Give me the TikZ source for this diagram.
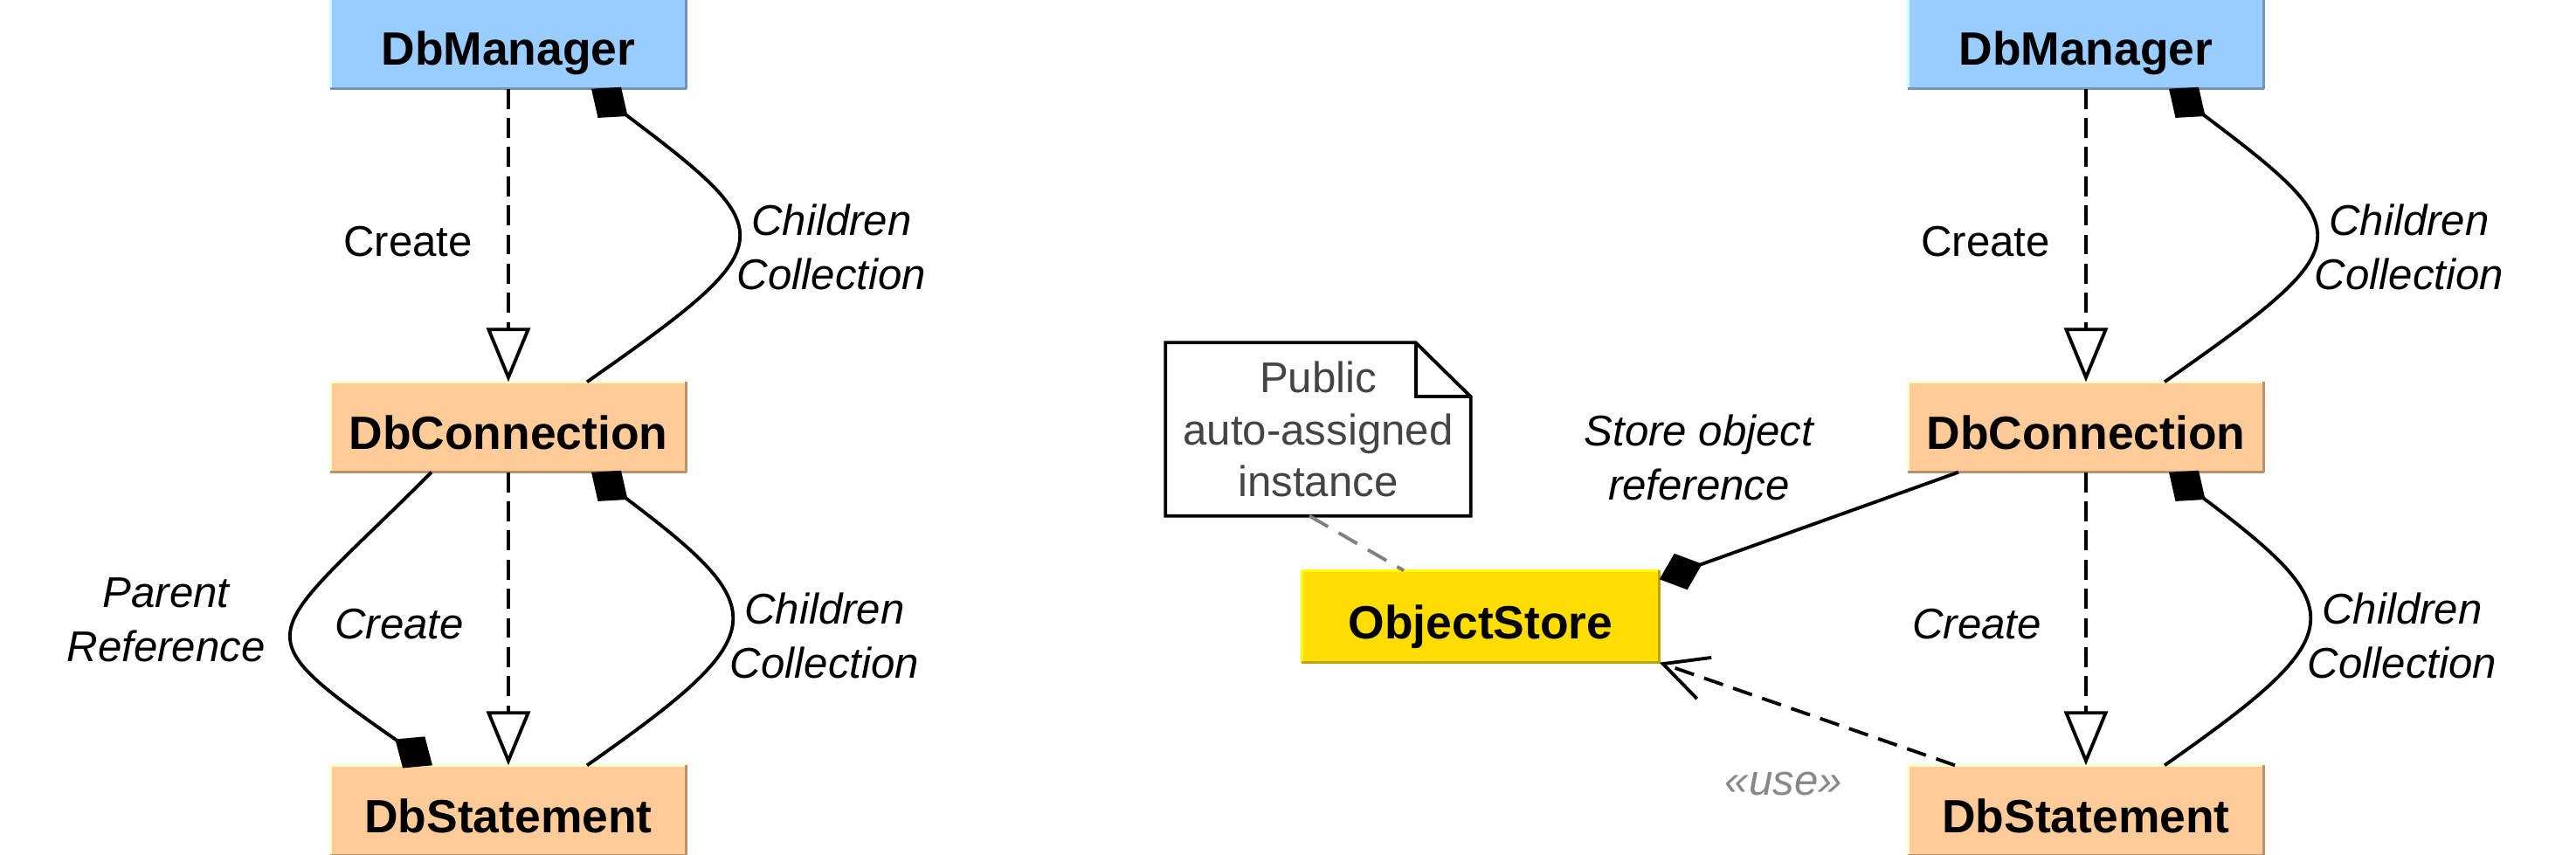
\documentclass[tikz,border=0pt]{standalone}
\usepackage{fontspec}
\setmainfont{Liberation Sans}
\usetikzlibrary{arrows.meta}

\definecolor{mgrfill}{HTML}{99CCFF}
\definecolor{mgrlight}{HTML}{CCFFFF}
\definecolor{mgrdark}{HTML}{7393B8}
\definecolor{dbfill}{HTML}{FFCC99}
\definecolor{dblight}{HTML}{FFFFCC}
\definecolor{dbdark}{HTML}{B8926B}
\definecolor{storefill}{HTML}{FFDD00}
\definecolor{storelight}{HTML}{FFFF00}
\definecolor{storedark}{HTML}{BFA500}
\definecolor{notetext}{HTML}{444444}
\definecolor{usegray}{HTML}{888888}

\begin{document}
\begin{tikzpicture}
    \tikzset{bevel/.style 2 args={append after command={
      (\tikzlastnode.south west) edge[draw=#1, line width=1pt] (\tikzlastnode.north west)
      (\tikzlastnode.north west) edge[draw=#1, line width=1pt] (\tikzlastnode.north east)
      (\tikzlastnode.south west) edge[draw=#2, line width=1pt] (\tikzlastnode.south east)
      (\tikzlastnode.south east) edge[draw=#2, line width=1pt] (\tikzlastnode.north east)
    }}}
    \tikzstyle{cls}=[
      rectangle,
      inner sep=0pt,
      minimum width=4.06cm,
      minimum height=1.02cm,
      text height=0.5cm,
      text depth=0pt,
      font=\fontsize{15.2}{18}\selectfont\bfseries,
    ]
    \tikzstyle{mgr}=[cls, fill=mgrfill, bevel={mgrlight}{mgrdark}]
    \tikzstyle{db}=[cls, fill=dbfill, bevel={dblight}{dbdark}]
    \tikzstyle{store}=[cls, minimum width=4.08cm, minimum height=1.04cm, fill=storefill, bevel={storelight}{storedark}]
    \tikzstyle{note}=[
      rectangle,
      inner sep=0pt,
      minimum width=3.48cm,
      minimum height=1.97cm,
      align=center,
      text=notetext,
      font=\fontsize{14}{17}\selectfont,
    ]
    \tikzstyle{lbl}=[inner sep=0pt, align=center, font=\fontsize{14}{17.6}\selectfont\itshape]
    \tikzstyle{lblup}=[inner sep=0pt, align=center, font=\fontsize{14}{17.6}\selectfont]
    \tikzstyle{create}=[line width=1.1pt, dash pattern=on 6.5pt off 3pt, -{Triangle[open, length=0.62cm, width=0.5cm]}]
    \tikzstyle{comp}=[line width=1.1pt, -{Diamond[length=0.52cm, width=0.44cm]}]
    \tikzstyle{usedep}=[line width=1.1pt, dash pattern=on 6.5pt off 3.5pt, -{Straight Barb[length=0.5cm, width=0.5cm]}]
    \tikzstyle{notelink}=[line width=1.1pt, draw=gray, dash pattern=on 7pt off 4pt]

    \useasboundingbox (0,0) rectangle (29.49,-9.79);

    \coordinate (leftAnchor) at (5.82,0);
    \coordinate (rightAnchor) at ([xshift=18.06cm] leftAnchor);

    % left hierarchy
    {
      \node[mgr] (mgr1) at ([yshift=-0.5cm] leftAnchor) {DbManager};
      \node[db] (conn1) at ([yshift=-4.89cm] leftAnchor) {DbConnection};
      \node[db] (stmt1) at ([yshift=-9.28cm] leftAnchor) {DbStatement};

      \node[lblup] (create11) at ([xshift=-1.15cm, yshift=-2.77cm] leftAnchor) {Create};
      \node[lbl] (children11) at ([xshift=3.70cm, yshift=-2.83cm] leftAnchor) {Children\\Collection};
      \node[lbl] (parent12) at ([xshift=-3.92cm, yshift=-7.10cm] leftAnchor) {Parent\\Reference};
      \node[lbl] (create12) at ([xshift=-1.25cm, yshift=-7.15cm] leftAnchor) {Create};
      \node[lbl] (children12) at ([xshift=3.62cm, yshift=-7.28cm] leftAnchor) {Children\\Collection};

      \draw[create] (mgr1)--(conn1);
      \draw[comp] ([xshift=0.9cm]conn1.north) to [out=35,in=-37,looseness=2.1] ([xshift=0.95cm]mgr1.south);

      \draw[create] (conn1)--(stmt1);
      \draw[comp] ([xshift=-0.88cm]conn1.south) to [out=225,in=145,looseness=2.08] ([xshift=-0.87cm]stmt1.north);
      \draw[comp] ([xshift=0.9cm]stmt1.north) to [out=35,in=-37,looseness=2.0] ([xshift=0.95cm]conn1.south);
    }

    % right hierarchy
    {
      \node[mgr] (mgr2) at ([yshift=-0.5cm] rightAnchor) {DbManager};
      \node[db] (conn2) at ([yshift=-4.89cm] rightAnchor) {DbConnection};
      \node[db] (stmt2) at ([yshift=-9.28cm] rightAnchor) {DbStatement};

      \node[lblup] (create21) at ([xshift=-1.15cm, yshift=-2.77cm] rightAnchor) {Create};
      \node[lbl] (children21) at ([xshift=3.70cm, yshift=-2.83cm] rightAnchor) {Children\\Collection};
      \node[lbl] (create22) at ([xshift=-1.25cm, yshift=-7.15cm] rightAnchor) {Create};
      \node[lbl] (children22) at ([xshift=3.62cm, yshift=-7.28cm] rightAnchor) {Children\\Collection};

      \draw[create] (mgr2)--(conn2);
      \draw[comp] ([xshift=0.9cm]conn2.north) to [out=35,in=-37,looseness=2.1] ([xshift=0.95cm]mgr2.south);

      \draw[create] (conn2)--(stmt2);
      \draw[comp] ([xshift=0.9cm]stmt2.north) to [out=35,in=-37,looseness=2.0] ([xshift=0.95cm]conn2.south);
    }

    % object store
    {
      \node[store] (store) at ([xshift=-6.93cm, yshift=-7.06cm] rightAnchor) {ObjectStore};
      \node[lbl] (storeref) at ([xshift=-4.43cm, yshift=-5.24cm] rightAnchor) {Store object\\reference};
      \node[lbl, text=usegray] (use) at ([xshift=-3.46cm, yshift=-8.97cm] rightAnchor) {«use»};

      \draw[comp] ([xshift=-1.46cm]conn2.south) -- ([yshift=-0.1cm]store.north east);
      \draw[usedep] ([xshift=-1.5cm]stmt2.north) -- (store.south east);
    }

    % note
    {
      \node[note] (note) at ([xshift=-8.79cm, yshift=-4.915cm] rightAnchor) {Public\\auto-assigned\\instance};
      \draw[line width=1.1pt, fill=white] (note.south west) -- (note.north west) -- ([xshift=-0.63cm]note.north east) -- ([yshift=-0.62cm]note.north east) -- (note.south east) -- cycle;
      \draw[line width=1.1pt] ([xshift=-0.63cm]note.north east) |- ([yshift=-0.62cm]note.north east);
      \node[note] at (note) {Public\\auto-assigned\\instance};
      \draw[notelink] ([xshift=-0.1cm]note.south) -- ([xshift=-0.88cm]store.north);
    }
\end{tikzpicture}
\end{document}
